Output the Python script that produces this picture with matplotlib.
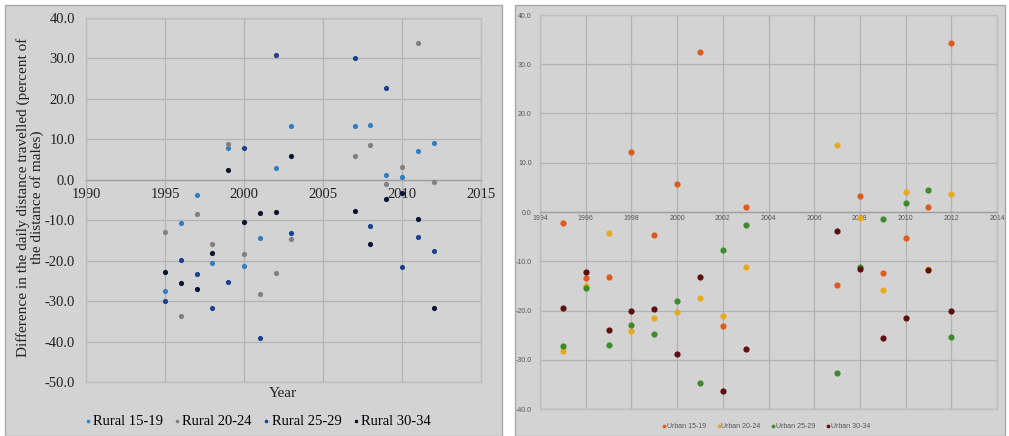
import matplotlib
matplotlib.use("Agg")
import matplotlib.pyplot as plt
from matplotlib.patches import Rectangle
from matplotlib.ticker import FormatStrFormatter

# Survey years (same for both panels)
years = [1995, 1996, 1997, 1998, 1999, 2000, 2001, 2002, 2003,
         2007, 2008, 2009, 2010, 2011, 2012]

# Rural age groups
rural_15_19 = [-27.5, -10.6, -3.7, -20.6, 7.8, -21.3, -14.3, 3.0, 13.4,
               13.2, 13.6, 1.2, 0.6, 7.2, 9.1]
rural_20_24 = [-12.8, -33.6, -8.4, -15.9, 8.8, -18.4, -28.3, -23.1, -14.6,
               5.8, 8.5, -1.0, 3.1, 33.8, -0.6]
rural_25_29 = [-30.0, -19.8, -23.3, -31.6, -25.3, 7.9, -39.0, 30.9, -13.2,
               30.0, -11.4, 22.7, -21.6, -14.2, -17.7]
rural_30_34 = [-22.9, -25.6, -27.1, -18.1, 2.3, -10.5, -8.3, -7.9, 5.8,
               -7.6, -15.9, -4.8, -3.3, -9.6, -31.8]

# Urban age groups
urban_15_19 = [-2.3, -13.5, -13.1, 12.1, -4.7, 5.6, 32.5, -23.1, 1.1,
               -14.9, 3.2, -12.3, -5.2, 1.1, 34.3]
urban_20_24 = [-28.3, -15.1, -4.3, -24.1, -21.6, -20.3, -17.4, -21.1, -11.1,
               13.6, -1.3, -15.9, 4.1, -11.6, 3.7]
urban_25_29 = [-27.3, -15.5, -27.1, -22.9, -24.7, -18.1, -34.8, -7.8, -2.6,
               -32.6, -11.1, -1.5, 1.8, 4.5, -25.4]
urban_30_34 = [-19.4, -12.1, -23.9, -20.0, -19.6, -28.9, -13.1, -36.4, -27.9,
               -3.8, -11.6, -25.6, -21.5, -11.8, -20.2]

rural_labels = ["Rural 15-19", "Rural 20-24", "Rural 25-29", "Rural 30-34"]
urban_labels = ["Urban 15-19", "Urban 20-24", "Urban 25-29", "Urban 30-34"]
rural_colors = ["#2f7fc1", "#808080", "#1f3f8f", "#0a1432"]
urban_colors = ["#df5a1e", "#e8aa1c", "#3f8a2c", "#5e0f0f"]

panel_bg = "#d3d3d3"
grid_col = "#b3b3b3"

fig = plt.figure(figsize=(10.09, 4.36), dpi=100)
fig.patch.set_facecolor("white")

W, H = 1009.0, 436.0

# gray chart backgrounds, kept behind the axes
for x0, x1 in [(5, 502), (515, 1005)]:
    fig.patches.append(Rectangle((x0 / W, 0), (x1 - x0) / W, (431) / H,
                                 transform=fig.transFigure, facecolor=panel_bg,
                                 edgecolor="#a9a9a9", lw=1.0, zorder=-10))


def style_axes(ax, fontsize, family, color):
    ax.set_facecolor(panel_bg)
    for s in ["top", "right", "left"]:
        ax.spines[s].set_visible(False)
    ax.spines["bottom"].set_position(("data", 0))
    ax.spines["bottom"].set_color("#a0a0a0")
    ax.spines["bottom"].set_linewidth(1.0)
    ax.add_patch(Rectangle((0, 0), 1, 1, transform=ax.transAxes, fill=False,
                           edgecolor="#bdbdbd", lw=1.0, clip_on=False, zorder=1))
    ax.grid(True, color=grid_col, lw=0.9)
    ax.set_axisbelow(True)
    ax.tick_params(length=0, labelsize=fontsize, colors=color)
    for lab in ax.get_xticklabels() + ax.get_yticklabels():
        lab.set_family(family)


# Left panel: rural
ax1 = fig.add_axes([86 / W, 1 - 382 / H, (481 - 86) / W, (382 - 18) / H])
ax1.set_xlim(1990, 2015)
ax1.set_ylim(-50, 40)
ax1.set_xticks(range(1990, 2016, 5))
ax1.set_yticks(range(-50, 41, 10))
ax1.yaxis.set_major_formatter(FormatStrFormatter("%.1f"))
rural = [rural_15_19, rural_20_24, rural_25_29, rural_30_34]
for vals, lab, col in zip(rural, rural_labels, rural_colors):
    ax1.scatter(years, vals, s=14, color=col, label=lab, zorder=3, lw=0)
style_axes(ax1, 10.5, "Liberation Serif", "#222222")
ax1.tick_params(axis="x", pad=6)
ax1.tick_params(axis="y", pad=8)

fig.text(30 / W, 1 - 197 / H,
         "Difference in the daily distance travelled (percent of\nthe distance of males)",
         rotation=90, ha="center", va="center", multialignment="center",
         family="Liberation Serif", fontsize=11, color="#222222", linespacing=1.0)
fig.text(283 / W, 1 - 393 / H, "Year", ha="center", va="center",
         family="Liberation Serif", fontsize=11, color="#222222")

h1, l1 = ax1.get_legend_handles_labels()
fig.legend(h1, l1, loc="center", bbox_to_anchor=(257 / W, 1 - 421 / H), ncol=4,
           frameon=False, handletextpad=0.05, columnspacing=0.7, markerscale=0.7,
           handlelength=0.6, prop={"family": "Liberation Serif", "size": 10.5})

# Right panel: urban
ax2 = fig.add_axes([540 / W, 1 - 409 / H, (997 - 540) / W, (409 - 15) / H])
ax2.set_xlim(1994, 2014)
ax2.set_ylim(-40, 40)
ax2.set_xticks(range(1994, 2015, 2))
ax2.set_yticks(range(-40, 41, 10))
ax2.yaxis.set_major_formatter(FormatStrFormatter("%.1f"))
urban = [urban_15_19, urban_20_24, urban_25_29, urban_30_34]
for vals, lab, col in zip(urban, urban_labels, urban_colors):
    ax2.scatter(years, vals, s=20, color=col, label=lab, zorder=3, lw=0)
style_axes(ax2, 5, "Liberation Sans", "#555555")
ax2.tick_params(axis="x", pad=2)
ax2.tick_params(axis="y", pad=6)

h2, l2 = ax2.get_legend_handles_labels()
fig.legend(h2, l2, loc="center", bbox_to_anchor=(766 / W, 1 - 426 / H), ncol=4,
           frameon=False, handletextpad=0.1, columnspacing=1.5, markerscale=0.6,
           handlelength=0.6, labelcolor="#555555",
           prop={"family": "Liberation Sans", "size": 5})

fig.savefig("out.png", dpi=100)
